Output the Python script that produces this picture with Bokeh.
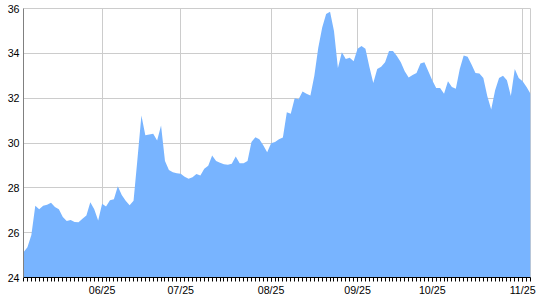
from bokeh.plotting import figure
from bokeh.models import Range1d, FixedTicker
from bokeh.embed import file_html
from bokeh.resources import INLINE

values = [
    25.13, 25.35, 25.9, 27.2, 27.05, 27.2, 27.25, 27.33, 27.15, 27.05,
    26.7, 26.52, 26.57, 26.48, 26.46, 26.62, 26.77, 27.36, 27.05, 26.54,
    27.29, 27.17, 27.45, 27.49, 28.07, 27.68, 27.42, 27.22, 27.42, 29.3,
    31.23, 30.35, 30.38, 30.41, 30.11, 30.78, 29.2, 28.8, 28.7, 28.65,
    28.63, 28.5, 28.4, 28.47, 28.62, 28.55, 28.85, 28.98, 29.44, 29.2,
    29.12, 29.05, 29.03, 29.07, 29.4, 29.1, 29.1, 29.2, 30.04, 30.26,
    30.17, 29.9, 29.59, 29.99, 30.04, 30.17, 30.25, 31.37, 31.3, 32.0,
    31.95, 32.3, 32.2, 32.12, 33.0, 34.25, 35.15, 35.75, 35.85, 35.0,
    33.35, 34.05, 33.75, 33.8, 33.65, 34.2, 34.33, 34.2, 33.4, 32.68,
    33.3, 33.4, 33.6, 34.1, 34.1, 33.88, 33.6, 33.2, 32.92, 33.03,
    33.12, 33.55, 33.6, 33.2, 32.8, 32.45, 32.45, 32.2, 32.75, 32.5,
    32.42, 33.3, 33.9, 33.85, 33.5, 33.12, 33.1, 32.9, 32.1, 31.5,
    32.35, 32.9, 33.0, 32.8, 32.1, 33.3, 32.9, 32.75, 32.5, 32.2,
]
x_index = list(range(len(values)))
tick_positions = [20, 40, 63, 85, 104, 127]
tick_labels = ["06/25", "07/25", "08/25", "09/25", "10/25", "11/25"]
y_ticks = [24, 26, 28, 30, 32, 34, 36]

p = figure(width=540, height=300, output_backend="svg", toolbar_location=None,
           x_range=Range1d(0, len(values) - 1), y_range=Range1d(24, 36),
           min_border_left=23, min_border_right=10, min_border_top=8,
           min_border_bottom=23)

p.varea(x=x_index, y1=[24] * len(values), y2=values, fill_color="#78b4ff")

font = "Liberation Sans"
fs = "8pt"

xa = p.xaxis[0]
xa.ticker = FixedTicker(ticks=tick_positions, minor_ticks=x_index)
xa.major_label_overrides = {t: l for t, l in zip(tick_positions, tick_labels)}
xa.major_tick_in = 0
xa.major_tick_out = 4
xa.minor_tick_in = 0
xa.minor_tick_out = 4
xa.major_tick_line_color = "black"
xa.minor_tick_line_color = "black"
xa.axis_line_color = "black"
xa.major_label_standoff = 2
xa.major_label_text_font = font
xa.major_label_text_font_size = fs
xa.major_label_text_color = "black"

ya = p.yaxis[0]
ya.ticker = FixedTicker(ticks=y_ticks, minor_ticks=[])
ya.major_tick_in = 0
ya.major_tick_out = 0
ya.minor_tick_line_color = None
ya.axis_line_color = "#808080"
ya.major_label_standoff = 4
ya.major_label_text_font = font
ya.major_label_text_font_size = fs
ya.major_label_text_color = "black"

p.xgrid.ticker = FixedTicker(ticks=tick_positions)
p.ygrid.ticker = FixedTicker(ticks=y_ticks)
p.xgrid.grid_line_color = "#cccccc"
p.ygrid.grid_line_color = "#cccccc"
p.outline_line_color = "#cccccc"
p.background_fill_color = "white"
p.border_fill_color = "white"

open("out.html", "w").write(file_html(p, INLINE))
